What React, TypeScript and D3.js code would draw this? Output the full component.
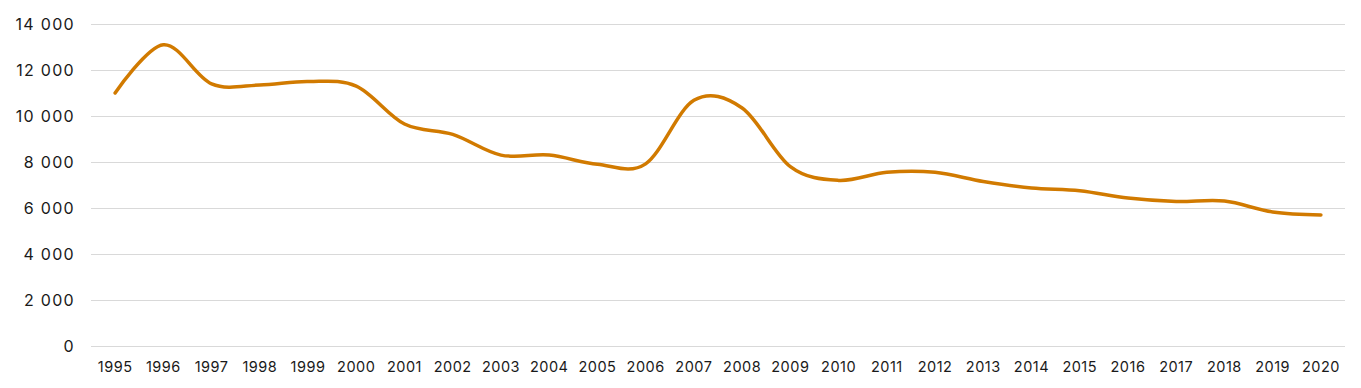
import * as d3 from "d3";
import { useEffect, useRef } from "react";

const years = [
  "1995", "1996", "1997", "1998", "1999", "2000", "2001", "2002", "2003",
  "2004", "2005", "2006", "2007", "2008", "2009", "2010", "2011", "2012",
  "2013", "2014", "2015", "2016", "2017", "2018", "2019", "2020",
];

const values = [
  11000, 13100, 11400, 11350, 11500, 11300, 9650, 9200, 8300, 8300, 7900,
  7920, 10680, 10350, 7800, 7200, 7550, 7550, 7150, 6870, 6750, 6430, 6280,
  6300, 5830, 5700,
];

const yTicks = [0, 2000, 4000, 6000, 8000, 10000, 12000, 14000];

const width = 1361;
const height = 388;
const margin = { top: 24, right: 16, bottom: 42, left: 91 };

const fmt = (v: number) => d3.format(",")(v).replace(/,/g, " ");

export default function App() {
  const ref = useRef<SVGSVGElement>(null);

  useEffect(() => {
    if (!ref.current) return;
    const svg = d3.select(ref.current);
    svg.selectAll("*").remove();

    const x = d3
      .scaleBand<string>()
      .domain(years)
      .range([margin.left, width - margin.right]);
    const y = d3
      .scaleLinear()
      .domain([0, 14000])
      .range([height - margin.bottom, margin.top]);

    const cx = (d: string) => (x(d) ?? 0) + x.bandwidth() / 2;

    // grid
    svg
      .append("g")
      .selectAll("line")
      .data(yTicks)
      .enter()
      .append("line")
      .attr("x1", margin.left)
      .attr("x2", width - margin.right)
      .attr("y1", (d) => Math.round(y(d)) + 0.5)
      .attr("y2", (d) => Math.round(y(d)) + 0.5)
      .attr("stroke", "#d9d9d9")
      .attr("stroke-width", 1);

    // y labels
    svg
      .append("g")
      .selectAll("text")
      .data(yTicks)
      .enter()
      .append("text")
      .attr("x", 75)
      .attr("y", (d) => y(d))
      .attr("dy", "0.36em")
      .attr("text-anchor", "end")
      .attr("font-family", "Inter, 'Open Sans', sans-serif")
      .attr("font-size", "16px")
      .attr("letter-spacing", "1.3px")
      .attr("fill", "#1a1a1a")
      .text((d) => fmt(d));

    // x labels
    svg
      .append("g")
      .selectAll("text")
      .data(years)
      .enter()
      .append("text")
      .attr("x", (d) => cx(d))
      .attr("y", 372)
      .attr("text-anchor", "middle")
      .attr("font-family", "Inter, 'Open Sans', sans-serif")
      .attr("font-size", "14.5px")
      .attr("letter-spacing", "0.5px")
      .attr("fill", "#1a1a1a")
      .text((d) => d);

    const line = d3
      .line<number>()
      .x((_, i) => cx(years[i]))
      .y((d) => y(d))
      .curve(d3.curveCatmullRom.alpha(0));

    svg
      .append("path")
      .datum(values)
      .attr("d", line)
      .attr("fill", "none")
      .attr("stroke", "#d17a00")
      .attr("stroke-width", 3.5)
      .attr("stroke-linecap", "round")
      .attr("stroke-linejoin", "round");
  }, []);

  return (
    <svg
      ref={ref}
      width={width}
      height={height}
      style={{ position: "absolute", left: 0, top: 0, background: "#fff" }}
    />
  );
}
